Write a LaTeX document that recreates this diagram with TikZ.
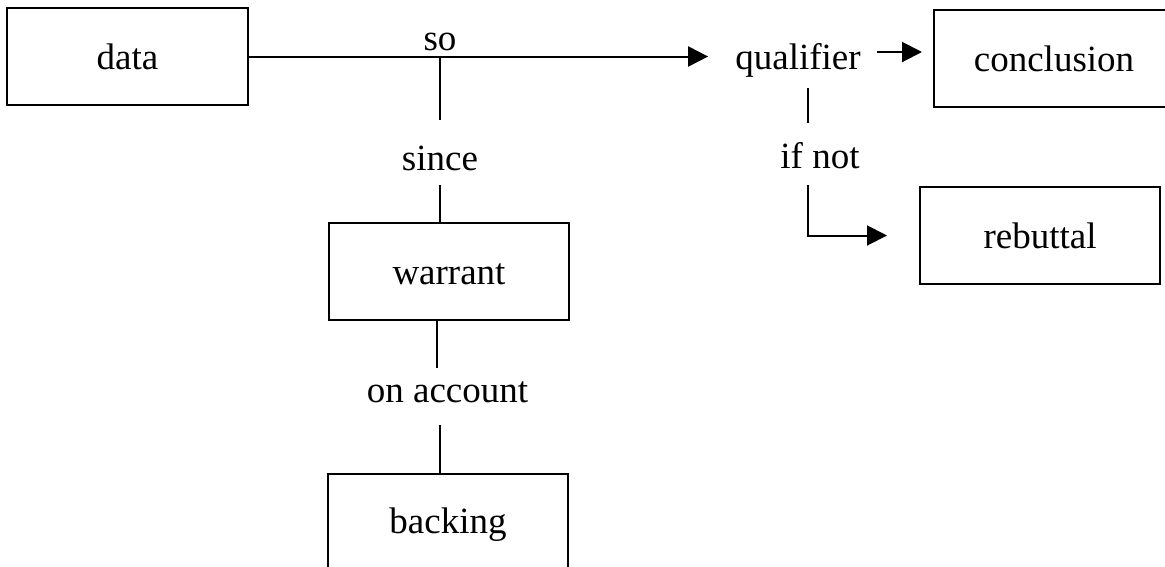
\documentclass[tikz,border=0pt]{standalone}
\usepackage{fontspec}
\setmainfont{Liberation Serif}
\usetikzlibrary{arrows.meta}

\tikzset{
  big/.style={font=\fontsize{37}{41}\selectfont},
  box/.style={big, draw, rectangle, inner sep=0pt, line width=2pt,
    text height=25pt, text depth=0pt, minimum height=97pt},
  word/.style={big, inner sep=0pt, anchor=base, text height=25pt, text depth=8pt},
  link/.style={line width=2pt},
  arr/.style={link, -{Triangle[length=20pt,width=20pt]}}
}

\begin{document}
\begin{tikzpicture}[x=1pt,y=-1pt]
  \useasboundingbox (0,0) rectangle (1165,566);
  \clip (0,0) rectangle (1165,566);

  % boxes
  \node[box, minimum width=241pt] (data) at (127.5,56.5) {data};
  \node[box, minimum width=240pt] (concl) at (1054,58.5) {conclusion};
  \node[box, minimum width=240pt] (rebut) at (1040,235.5) {rebuttal};
  \node[box, minimum width=240pt] (warrant) at (449,271.5) {warrant};
  \node[box, minimum width=240pt, minimum height=110pt, text depth=17pt,
        anchor=north] (backing) at (448,473) {backing};

  % connecting words
  \node[word] (so) at (440,50) {so};
  \node[word] (qual) at (798,69) {qualifier};
  \node[word] (since) at (440,170) {since};
  \node[word] (onacc) at (447.5,402) {on account};
  \node[word] (ifnot) at (820,168) {if not};
  \coordinate (ifbend) at (808,235.5);

  % data -- so --> qualifier --> conclusion
  \draw[arr, shorten >=27pt] (data.east) -- (data.east -| qual.west);
  \draw[arr, shorten <=16pt, shorten >=11pt]
    ([yshift=8.5pt]qual.east) -- ([yshift=8.5pt]qual.east -| concl.west);

  % since: warrant, on account: backing
  \draw[link, shorten >=25pt] (so.south |- data.east) -- (so.south |- since.north);
  \draw[link, shorten <=7pt] (since.south) -- (since.south |- warrant.north);
  \draw[link, shorten >=9pt] ([xshift=-12pt]warrant.south) -- ([xshift=-12pt]warrant.south |- onacc.north);
  \draw[link, shorten <=15pt] ([xshift=-7.5pt]onacc.south) -- ([xshift=-7.5pt]onacc.south |- backing.north);

  % if not: rebuttal
  \draw[link, shorten <=11pt, shorten >=20pt] (qual.south -| ifbend) -- (ifnot.north -| ifbend);
  \draw[arr, shorten <=9pt, shorten >=32pt] (ifnot.south -| ifbend) |- (rebut.west);
\end{tikzpicture}
\end{document}
